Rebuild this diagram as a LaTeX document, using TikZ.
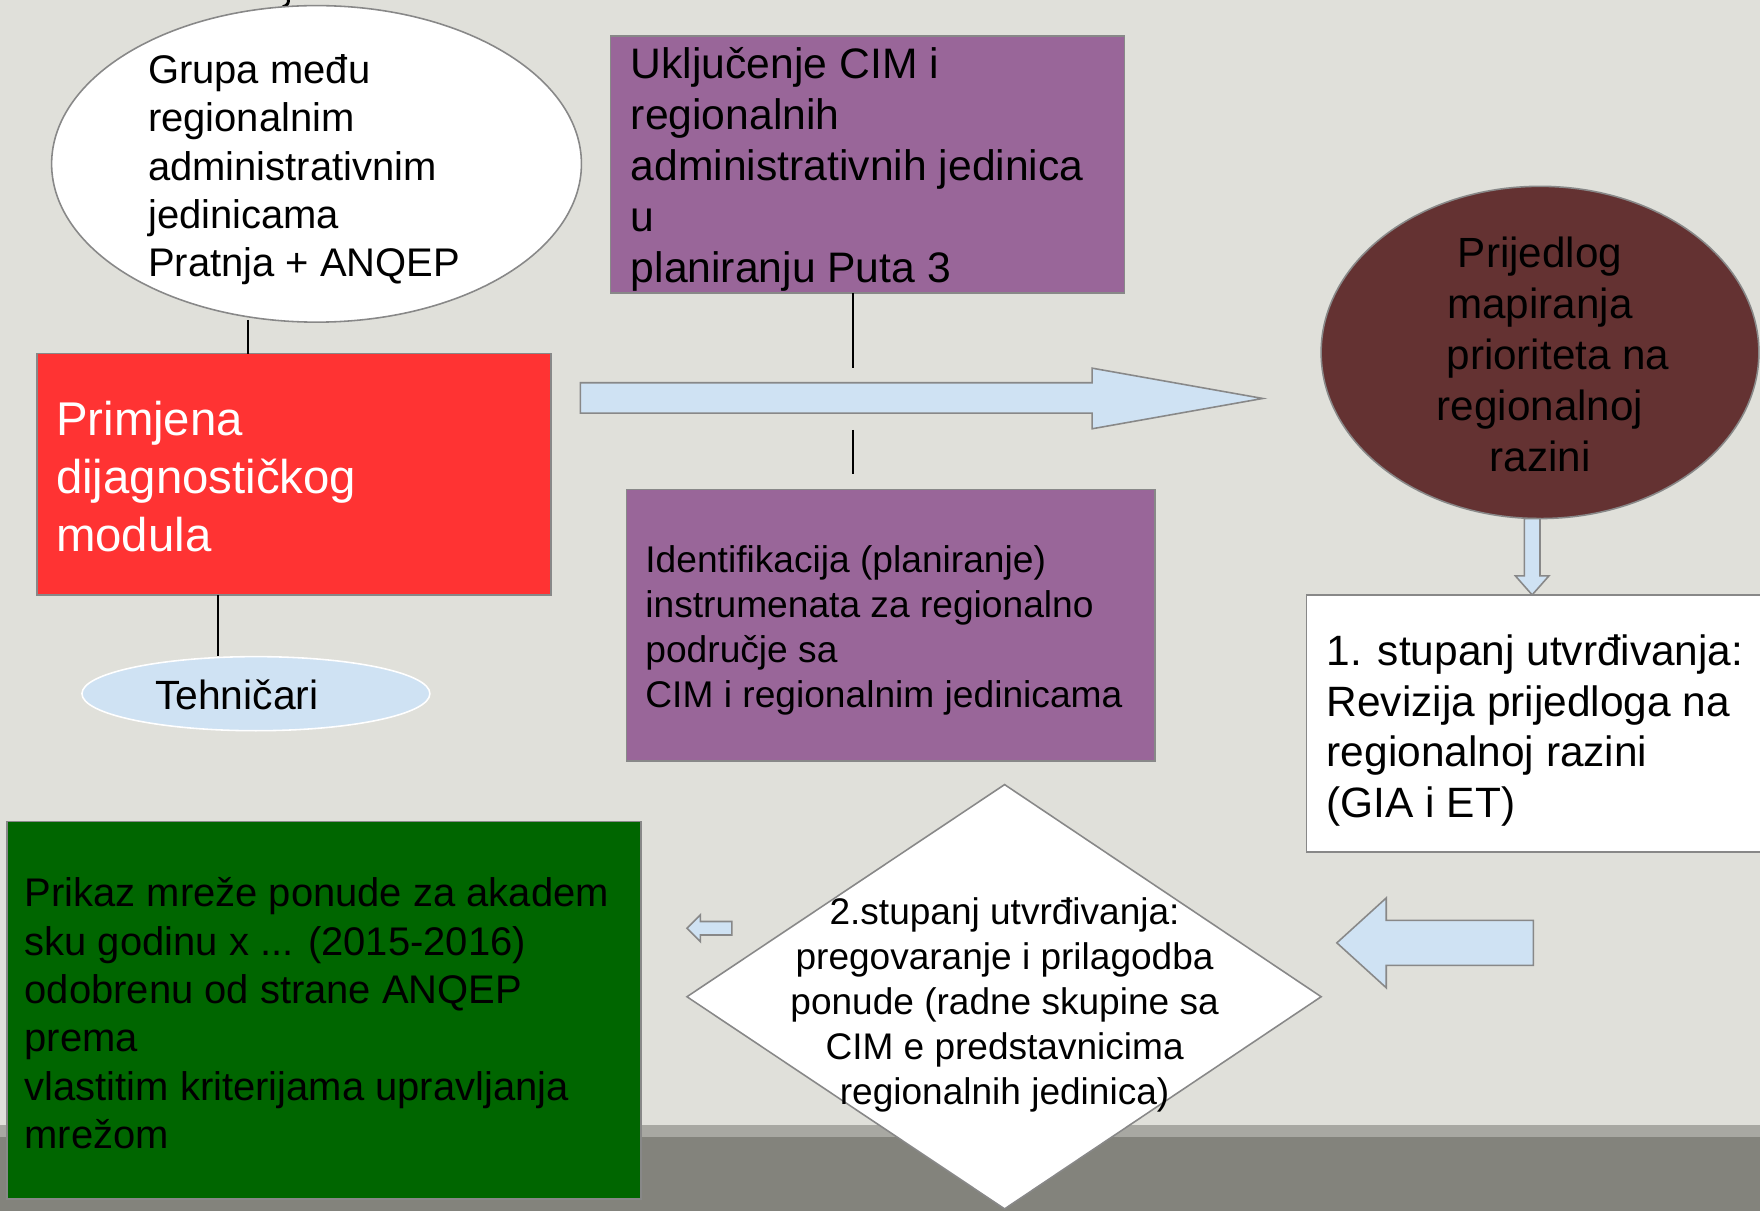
\documentclass[tikz,border=0pt]{standalone}
\usepackage{fontspec}
\setmainfont{Liberation Sans}
\usetikzlibrary{shapes.geometric}
\definecolor{bgc}{HTML}{E0E0DA}
\definecolor{bandl}{HTML}{A8A8A2}
\definecolor{bandd}{HTML}{83837C}
\definecolor{lblue}{HTML}{CFE2F3}
\definecolor{purp}{HTML}{996699}
\definecolor{redc}{HTML}{FF3333}
\definecolor{brownc}{HTML}{643232}
\definecolor{greenc}{HTML}{006600}
\definecolor{bord}{HTML}{888888}
\newcommand{\fs}[2]{\fontsize{#1pt}{#2pt}\selectfont}
\begin{document}
\begin{tikzpicture}[x=0.5pt,y=-0.5pt,
  shapebox/.style={draw=bord,line width=0.7pt,inner sep=0pt,outer sep=0pt},
  blockarrow/.style={draw=bord,line width=0.7pt,fill=lblue},
  txt/.style={inner sep=0pt,outer sep=0pt,anchor=base west},
  ctxt/.style={inner sep=0pt,outer sep=0pt,anchor=base},
  link/.style={draw=black,line width=0.7pt}]
\useasboundingbox (0,0) rectangle (1568,1079);
% background
\fill[bgc] (0,0) rectangle (1568,1079);
\fill[bandl] (0,1002) rectangle (1568,1013);
\fill[bandd] (0,1013) rectangle (1568,1079);
% fragment at top
\draw[line width=1.3pt] (257,0) .. controls (257,3) and (256,5) .. (252,6);

% shapes
\node[shapebox,ellipse,fill=white,minimum width=236pt,minimum height=141pt] (grp) at (282,146) {};
\node[shapebox,rectangle,fill=purp,minimum width=229pt,minimum height=114.5pt] (uk) at (773,146.5) {};
\node[shapebox,rectangle,fill=redc,minimum width=229pt,minimum height=107.5pt] (prim) at (262,422.5) {};
\node[ellipse,draw=white,line width=0.7pt,fill=lblue,inner sep=0pt,minimum width=155pt,minimum height=33pt] (teh) at (228,618) {};
\node[shapebox,rectangle,fill=purp,minimum width=235.5pt,minimum height=121pt] (ident) at (793.5,557) {};
\node[shapebox,ellipse,fill=brownc,minimum width=195pt,minimum height=148pt] (prij) at (1372,314) {};
\node[shapebox,rectangle,fill=white,minimum width=203pt,minimum height=114.5pt] (stup) at (1367,644.5) {};
\node[shapebox,rectangle,fill=greenc,minimum width=282.5pt,minimum height=168pt] (prikaz) at (288.5,900) {};
\coordinate (dt) at (895,699);
\coordinate (dl) at (612,888);
\coordinate (dr) at (1177,888);
\coordinate (db) at (895,1077);
\draw[draw=bord,line width=0.7pt,fill=white] (dt) -- (dr) -- (db) -- (dl) -- cycle;

% block arrows
\draw[blockarrow] (517,341) -- (973,341) -- (973,328) -- (1125,355) -- (973,382) -- (973,368) -- (517,368) -- cycle;
\draw[blockarrow] (1358,462) -- (1372,462) -- (1372,513) -- (1380,513) -- (1365,530) -- (1350,513) -- (1358,513) -- cycle;
\draw[blockarrow] (1366,820) -- (1235,820) -- (1235,800) -- (1191,840) -- (1235,880) -- (1235,860) -- (1366,860) -- cycle;
\draw[blockarrow] (652,821) -- (624,821) -- (624,815) -- (612,827) -- (624,839) -- (624,833) -- (652,833) -- cycle;

% connectors
\coordinate (c1) at (221,0);
\coordinate (c2) at (194,0);
\coordinate (c3) at (760,0);
\draw[link] (c1 |- 0,285) -- (c1 |- prim.north);
\draw[link] (c2 |- prim.south) -- (c2 |- teh.north);
\draw[link] (c3 |- uk.south) -- (c3 |- 0,328);
\draw[link] (c3 |- 0,383) -- (c3 |- 0,422);

% texts
\node[txt] (tgrp) at (132,74.5) {\parbox[t]{300pt}{\raggedright\fs{17.8}{21.5}Grupa među\\regionalnim\\administrativnim\\jedinicama\\Pratnja + ANQEP}};
\node[txt] (tuk) at (562,70) {\parbox[t]{300pt}{\raggedright\fs{19}{22.75}Uključenje CIM i\\regionalnih\\administrativnih jedinica\\u\\planiranju Puta 3}};
\node[txt,text=white] (tprim) at (50,388) {\parbox[t]{300pt}{\raggedright\fs{21.1}{25.75}Primjena\\dijagnostičkog\\modula}};
\node[ctxt] (tteh) at (211,632) {\fs{18.2}{22}Tehničari};
\node[txt] (tident) at (575,510) {\parbox[t]{300pt}{\raggedright\fs{16.55}{20}Identifikacija (planiranje)\\instrumenata za regionalno\\područje sa\\CIM i regionalnim jedinicama}};
\node[ctxt] (tprij) at (1372,238) {\parbox[t]{200pt}{\centering\fs{18.8}{22.75}Prijedlog\\mapiranja\\\hspace*{16pt}prioriteta na\\regionalnoj\\razini}};
\node[txt] (tstup) at (1182,593) {\parbox[t]{300pt}{\raggedright\fs{18.9}{22.5}1. stupanj utvrđivanja:\\Revizija prijedloga na\\regionalnoj razini\\(GIA i ET)}};
\node[ctxt] (tdia) at (895,824) {\parbox[t]{250pt}{\centering\fs{16.5}{20}2.stupanj utvrđivanja:\\pregovaranje i prilagodba\\ponude (radne skupine sa\\CIM e predstavnicima\\regionalnih jedinica)}};
\node[txt] (tprikaz) at (22,808) {\parbox[t]{300pt}{\raggedright\fs{17.8}{21.5}Prikaz mreže ponude za akadem\\sku godinu x ... (2015-2016)\\odobrenu od strane ANQEP\\prema\\vlastitim kriterijama upravljanja\\mrežom}};
\end{tikzpicture}
\end{document}
